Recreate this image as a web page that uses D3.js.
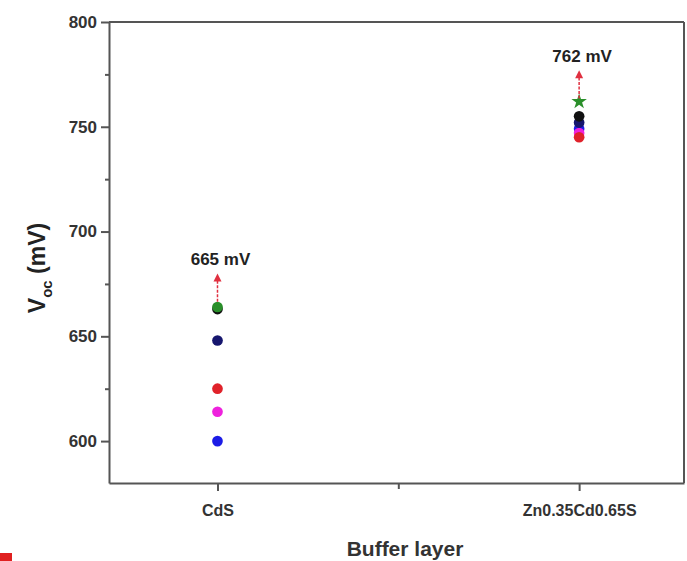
<!DOCTYPE html>
<html>
<head>
<meta charset="utf-8">
<script src="https://cdn.jsdelivr.net/npm/d3@7"></script>
<style>
  body { margin: 0; background: #fff; }
  text { font-family: "Liberation Sans", Arial, sans-serif; }
</style>
</head>
<body>
<div id="chart"></div>
<script>
// data
var layers = ["CdS", "Zn0.35Cd0.65S"];
var layerPos = [1, 2];
var seriesNames = ["blue", "magenta", "red", "navy", "black", "green"];
var vocCdS = [600, 614, 625, 648, 663, 664];
var vocZnCdS = [749, 747, 745, 752, 755, 762];
var seriesColors = ["#1c1ce6", "#ee22dd", "#e0222a", "#16166e", "#111111", "#2a8f2a"];
var seriesShapes = ["circle", "circle", "circle", "circle", "circle", "star"];
var yTicks = [600, 650, 700, 750, 800];
var yMinor = [625, 675, 725, 775];
var bestLabels = ["665 mV", "762 mV"];
var bestValues = [665, 762];

var svgWidth = 687
var svgHeight = 561

var svg = d3.select('#chart')
    .append('svg')
    .attr('width', svgWidth)
    .attr('height', svgHeight)

var plotLeft = 109, plotRight = 684, plotTop = 22, plotBottom = 483

var x = d3.scaleLinear().domain([0.7, 2.29]).range([plotLeft, plotRight])
var y = d3.scaleLinear().domain([580, 800]).range([plotBottom, plotTop])

var axisColor = '#555'

// y axis
var yAxis = svg.append('g')
    .attr('transform', 'translate(' + plotLeft + ',0)')
    .call(d3.axisLeft(y).tickValues(yTicks).tickSize(8).tickSizeOuter(0).tickPadding(4))
yAxis.selectAll('text')
    .attr('font-size', 17).attr('font-weight', 'bold').attr('fill', '#333')
    .attr('font-family', '"Liberation Sans", Arial, sans-serif')
svg.append('g')
    .attr('transform', 'translate(' + plotLeft + ',0)')
    .call(d3.axisLeft(y).tickValues(yMinor).tickSize(4).tickFormat(''))
    .select('.domain').remove()

// x axis
var xAxis = svg.append('g')
    .attr('transform', 'translate(0,' + plotBottom + ')')
    .call(d3.axisBottom(x).tickValues(layerPos).tickSize(8).tickSizeOuter(0).tickPadding(14)
        .tickFormat(function(d, i) { return layers[i] }))
xAxis.selectAll('text')
    .attr('font-size', 16).attr('font-weight', 'bold').attr('fill', '#333')
    .attr('font-family', '"Liberation Sans", Arial, sans-serif')
svg.append('g')
    .attr('transform', 'translate(0,' + plotBottom + ')')
    .call(d3.axisBottom(x).tickValues([1.5]).tickSize(6).tickFormat(''))
    .select('.domain').remove()

svg.selectAll('.domain, .tick line')
    .attr('stroke', axisColor).attr('stroke-width', 2)

// top and right frame
svg.append('line').attr('x1', plotLeft).attr('x2', plotRight).attr('y1', plotTop).attr('y2', plotTop)
    .attr('stroke', axisColor).attr('stroke-width', 2)
svg.append('line').attr('x1', plotRight).attr('x2', plotRight).attr('y1', plotTop).attr('y2', plotBottom)
    .attr('stroke', axisColor).attr('stroke-width', 2)

// points
var points = []
seriesNames.forEach(function(name, i) {
    points.push({ pos: layerPos[0], v: vocCdS[i], color: seriesColors[i], shape: i == 5 ? 'circle' : seriesShapes[i] })
    points.push({ pos: layerPos[1], v: vocZnCdS[i], color: seriesColors[i], shape: seriesShapes[i] })
})

svg.selectAll('path.pt')
    .data(points)
    .enter()
    .append('path')
    .classed('pt', true)
    .attr('d', function(d) {
        return d3.symbol().type(d.shape == 'star' ? d3.symbolStar : d3.symbolCircle)
            .size(d.shape == 'star' ? 75 : 90)()
    })
    .attr('transform', function(d) { return 'translate(' + x(d.pos) + ',' + y(d.v) + ')' })
    .attr('fill', function(d) { return d.color })

// arrows + labels
var arrowColor = '#e03040'
layerPos.forEach(function(p, i) {
    var base = y(bestValues[i] + 1.5)
    var tip = y(bestValues[i] + 15)
    svg.append('line')
        .attr('x1', x(p)).attr('x2', x(p))
        .attr('y1', base).attr('y2', tip + 6)
        .attr('stroke', arrowColor).attr('stroke-width', 1.5)
        .attr('stroke-dasharray', '3,1.5')
    svg.append('path')
        .attr('d', 'M' + (x(p) - 4) + ',' + (tip + 8) + 'L' + x(p) + ',' + tip + 'L' + (x(p) + 4) + ',' + (tip + 8) + 'Z')
        .attr('fill', arrowColor)
    svg.append('text')
        .attr('x', x(p) + 3)
        .attr('y', y(bestValues[i] + 19))
        .attr('text-anchor', 'middle')
        .attr('font-size', 17).attr('font-weight', 'bold').attr('fill', '#222')
        .text(bestLabels[i])
})

// axis titles
svg.append('text')
    .attr('x', 405).attr('y', 556)
    .attr('text-anchor', 'middle')
    .attr('font-size', 21).attr('font-weight', 'bold').attr('fill', '#333')
    .text('Buffer layer')

var yTitle = svg.append('text')
    .attr('transform', 'translate(45,268) rotate(-90)')
    .attr('text-anchor', 'middle')
    .attr('font-size', 23).attr('font-weight', 'bold').attr('fill', '#222')
yTitle.append('tspan').text('V')
yTitle.append('tspan').text('oc').attr('font-size', 15).attr('dy', 7)
yTitle.append('tspan').text(' (mV)').attr('dy', -7)

// red corner mark in the picture
svg.append('rect').attr('x', 0).attr('y', 553).attr('width', 12).attr('height', 8).attr('fill', '#e02020')
</script>
</body>
</html>
